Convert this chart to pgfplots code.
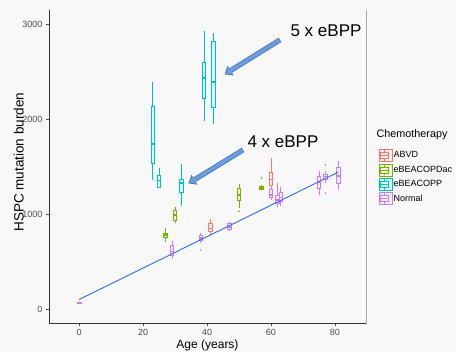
\documentclass[border=0pt]{standalone}
\usepackage{pgfplots}
\pgfplotsset{compat=1.18}
\usepgfplotslibrary{statistics}
\usetikzlibrary{arrows.meta,backgrounds,calc}
\usepackage{fontspec}
\setmainfont{Liberation Sans}
\definecolor{cABVD}{HTML}{F8766D}
\definecolor{cDac}{HTML}{7CAE00}
\definecolor{cCOPP}{HTML}{00BFC4}
\definecolor{cNorm}{HTML}{C77CFF}
\definecolor{smooth}{HTML}{3366FF}
\definecolor{arrowblue}{HTML}{6B9BE0}
\definecolor{arrowedge}{HTML}{3F6FB5}
\definecolor{bg}{HTML}{F8F8F8}
\definecolor{ticklab}{HTML}{4D4D4D}

\newcommand{\bp}[7]{%
  \addplot[forget plot, color=#1, fill=#1!15, line width=0.6pt, solid, mark=none,
    boxplot/draw direction=y,
    boxplot/every box/.style={draw=#1, fill=#1!15},
    boxplot/every whisker/.style={draw=#1},
    boxplot/every median/.style={draw=#1, line width=1.1pt},
    boxplot prepared={draw position=#2, lower whisker=#3, lower quartile=#4, median=#5,
      upper quartile=#6, upper whisker=#7, box extend=1.1, whisker extend=0}] coordinates {};}

\begin{document}
\begin{tikzpicture}
\begin{axis}[
  scale only axis, width=317pt, height=313pt,
  xmin=-9.4, xmax=89.7, ymin=-147, ymax=3147,
  clip=false,
  axis line style={draw=gray!70, line width=0.5pt},
  tick pos=left, tick align=outside, major tick length=3pt,
  tick style={ticklab, line width=0.5pt},
  xtick={0,20,40,60,80}, ytick={0,1000,2000,3000},
  /pgf/number format/assume math mode=true,
  /pgf/number format/1000 sep={},
  ticklabel style={font=\fontsize{9}{10}\selectfont, text=ticklab},
  xlabel={Age (years)}, ylabel={HSPC mutation burden},
  xlabel style={at={(axis description cs:0.5,-0.07)}, anchor=center, font=\fontsize{12}{14}\selectfont},
  ylabel style={at={(axis description cs:-0.095,0.514)}, anchor=center, rotate=0, font=\fontsize{13.5}{15}\selectfont},
  legend style={draw=none, fill=none, at={(rel axis cs:1.03,0.562)}, anchor=north west,
    font=\fontsize{9}{11}\selectfont, row sep=1.8pt, nodes={inner sep=1.2pt}},
  legend cell align=left,
]
\fill[bg] (rel axis cs:0,0) rectangle (rel axis cs:1,1);
% eBEACOPP
\bp{cCOPP}{23}{1360}{1537}{1737}{2137}{2389}
\bp{cCOPP}{25}{1270}{1284}{1350}{1410}{1484}
\bp{cCOPP}{32}{1084}{1232}{1326}{1368}{1526}
\bp{cCOPP}{39}{1979}{2221}{2431}{2600}{2926}
\bp{cCOPP}{42}{1947}{2126}{2389}{2821}{2905}
% eBEACOPDac
\bp{cDac}{27}{705}{758}{779}{800}{850}
\bp{cDac}{30}{905}{937}{990}{1042}{1074}
\bp{cDac}{50}{1060}{1140}{1200}{1270}{1320}
\bp{cDac}{57}{1250}{1262}{1274}{1295}{1300}
\addplot[forget plot, only marks, mark=*, mark size=0.6pt, cDac] coordinates {(57,1379) (50,1030)};
% ABVD
\bp{cABVD}{41}{780}{820}{850}{900}{950}
\bp{cABVD}{60}{1150}{1300}{1360}{1440}{1590}
% Normal
\bp{cNorm}{0}{55}{60}{63}{66}{70}
\bp{cNorm}{29}{530}{570}{610}{670}{720}
\bp{cNorm}{38}{700}{720}{747}{780}{800}
\bp{cNorm}{47}{820}{840}{863}{900}{920}
\bp{cNorm}{60}{1150}{1180}{1200}{1260}{1300}
\bp{cNorm}{62}{1074}{1110}{1147}{1200}{1326}
\bp{cNorm}{63}{1080}{1130}{1170}{1230}{1280}
\bp{cNorm}{75}{1200}{1270}{1337}{1400}{1450}
\bp{cNorm}{77}{1330}{1360}{1390}{1420}{1450}
\bp{cNorm}{81}{1250}{1326}{1400}{1495}{1560}
\addplot[forget plot, only marks, mark=*, mark size=0.6pt, cNorm] coordinates {(38,620) (77,1516) (77,1221)};
% regression line
\addplot[forget plot, color=smooth, line width=0.9pt, mark=none] coordinates {(0,100) (81,1440)};
% arrows
\draw[line width=5pt, arrowedge, -{Triangle[length=7pt,width=11pt]}] (axis cs:62.8,2832) -- (axis cs:45.5,2470);
\draw[line width=3.6pt, arrowblue, -{Triangle[length=5.6pt,width=9pt]}] (axis cs:62.6,2828) -- (axis cs:45.9,2478);
\draw[line width=5pt, arrowedge, -{Triangle[length=7pt,width=11pt]}] (axis cs:51.25,1674) -- (axis cs:34.2,1322);
\draw[line width=3.6pt, arrowblue, -{Triangle[length=5.6pt,width=9pt]}] (axis cs:51.05,1670) -- (axis cs:34.6,1330);
\node[font=\fontsize{17}{19}\selectfont] at (axis cs:77.2,2926) {5 x eBPP};
\node[font=\fontsize{17}{19}\selectfont] at (axis cs:63.75,1758) {4 x eBPP};
% darker left/bottom axis lines
\draw[black!80, line width=0.8pt] (rel axis cs:0,1) -- (rel axis cs:0,0) -- (rel axis cs:1,0);
\node[anchor=west, inner sep=0pt, font=\fontsize{10.8}{13}\selectfont] at (rel axis cs:1.033,0.6006) {Chemotherapy};
\coordinate (LL) at (rel axis cs:0,0);
% legend
\pgfplotsset{boxleg/.style={legend image code/.code={%
  \path (0pt,-6pt) rectangle (13pt,6pt);
  \draw (1pt,-3pt) rectangle (9pt,3pt);
  \draw (1pt,0pt)--(9pt,0pt) (5pt,3pt)--(5pt,5.5pt) (5pt,-3pt)--(5pt,-5.5pt);}}}
\addlegendimage{boxleg, draw=cABVD, fill=cABVD!12, line width=0.6pt}
\addlegendentry{ABVD}
\addlegendimage{boxleg, draw=cDac, fill=cDac!12, line width=0.6pt}
\addlegendentry{eBEACOPDac}
\addlegendimage{boxleg, draw=cCOPP, fill=cCOPP!12, line width=0.6pt}
\addlegendentry{eBEACOPP}
\addlegendimage{boxleg, draw=cNorm, fill=cNorm!12, line width=0.6pt}
\addlegendentry{Normal}
\end{axis}
\pgfresetboundingbox
\path ($(LL)+(-49pt,-29pt)$) rectangle ($(LL)+(407pt,323pt)$);
\begin{scope}[on background layer]
\fill[bg] ($(LL)+(-49pt,-29pt)$) rectangle ($(LL)+(407pt,323pt)$);
\end{scope}
\end{tikzpicture}
\end{document}
